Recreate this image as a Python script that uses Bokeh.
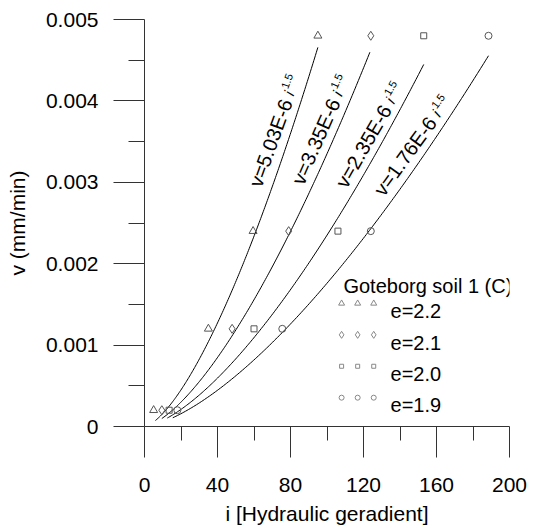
import math
import numpy as np
from bokeh.plotting import figure
from bokeh.models import Range1d, FixedTicker
from bokeh.embed import file_html
from bokeh.resources import INLINE
from bokeh.core.properties import value

# ---------------- data ----------------
v_levels = [0.0002, 0.0012, 0.0024, 0.0048]          # v (mm/min)
i_e22 = [5.0, 35.0, 59.5, 95.0]                      # e=2.2
i_e21 = [9.5, 48.0, 79.0, 124.0]                     # e=2.1
i_e20 = [13.5, 60.0, 106.0, 153.0]                   # e=2.0
i_e19 = [18.0, 75.5, 124.0, 188.5]                   # e=1.9
series_i = [i_e22, i_e21, i_e20, i_e19]
series_labels = ["e=2.2", "e=2.1", "e=2.0", "e=1.9"]
series_markers = ["triangle", "diamond", "square", "circle"]
legend_title = "Goteborg soil 1 (C)"

fit_coef = [5.03e-6, 3.35e-6, 2.35e-6, 1.76e-6]      # v = c * i^1.5
fit_text = ["v=5.03E-6", "v=3.35E-6", "v=2.35E-6", "v=1.76E-6"]
fit_exp = 1.5
fit_exp_text = "1.5"
fit_i_start = [6.0, 9.5, 12.5, 15.5]
fit_i_end = [95.0, 123.5, 153.0, 188.5]

x_ticks = [0, 40, 80, 120, 160, 200]
x_minor = [20, 60, 100, 140, 180]
y_ticks = [0, 0.001, 0.002, 0.003, 0.004, 0.005]
y_tick_labels = ["0", "0.001", "0.002", "0.003", "0.004", "0.005"]
y_minor = [0.0005, 0.0015, 0.0025, 0.0035, 0.0045]

# ---------------- styling / layout ----------------
FONT = "Liberation Sans"
AX = "#333333"
MK = "#555555"
label_i = [65.2, 88.2, 111.8, 132.1]
label_v = [0.002915, 0.00294, 0.0029, 0.0028]
label_angle = [70, 66, 60, 54]
label_perp = 9
marker_sizes = {"triangle": 8, "diamond": 9, "square": 6, "circle": 7}

p = figure(width=534, height=527, output_backend="svg", toolbar_location=None,
           x_range=Range1d(0, 200), y_range=Range1d(0, 0.005),
           min_border_left=144, min_border_right=25, min_border_top=19,
           min_border_bottom=98, background_fill_color="white",
           border_fill_color="white", outline_line_color=None)
p.grid.visible = False

p.xaxis.ticker = FixedTicker(ticks=x_ticks, minor_ticks=x_minor)
p.yaxis.ticker = FixedTicker(ticks=y_ticks, minor_ticks=y_minor)
p.yaxis.major_label_overrides = {t: s for t, s in zip(y_ticks, y_tick_labels)}
p.xaxis.major_label_overrides = {t: str(t) for t in x_ticks}

for ax, minor_out in ((p.xaxis, 14), (p.yaxis, 16)):
    ax.axis_line_color = AX
    ax.major_tick_line_color = AX
    ax.minor_tick_line_color = AX
    ax.major_tick_in = 0
    ax.major_tick_out = 31
    ax.minor_tick_in = 0
    ax.minor_tick_out = minor_out
    ax.major_label_text_font = FONT
    ax.major_label_text_font_size = "21px"
    ax.major_label_text_color = "black"
    ax.axis_label_text_font = FONT
    ax.axis_label_text_font_size = "21px"
    ax.axis_label_text_font_style = "normal"
    ax.axis_label_text_color = "black"

p.xaxis.axis_label = "i [Hydraulic geradient]"
p.yaxis.axis_label = "v (mm/min)"
p.xaxis.major_label_standoff = 20
p.yaxis.major_label_standoff = 15
p.xaxis.axis_label_standoff = 7
p.yaxis.axis_label_standoff = 14

# fitted curves
for c, a, b in zip(fit_coef, fit_i_start, fit_i_end):
    ii = np.linspace(a, b, 200)
    p.line(ii, c * ii ** fit_exp, line_color="black", line_width=1)

# data points
for ivals, mk in zip(series_i, series_markers):
    p.scatter(ivals, v_levels, marker=mk, size=marker_sizes[mk],
              line_color=MK, line_width=1, fill_alpha=0)

# curve labels  "v=..E-6 i^1.5"
def offs(d, perp, th):
    t = math.radians(th)
    return (d * math.cos(t) - perp * math.sin(t),
            -(d * math.sin(t) + perp * math.cos(t)))

for txt, li, lv, th in zip(fit_text, label_i, label_v, label_angle):
    dx, dy = offs(0, label_perp, th)
    p.text([li], [lv], text=[txt], angle=th, angle_units="deg",
           x_offset=dx, y_offset=dy,
           text_font=value(FONT), text_font_size="20px", text_color="black",
           text_align="left", text_baseline="alphabetic")
    dx, dy = offs(97, label_perp, th)
    p.text([li], [lv], text=["i"], angle=th, angle_units="deg",
           x_offset=dx, y_offset=dy,
           text_font=value(FONT), text_font_size="15px", text_font_style="italic",
           text_color="black", text_align="left", text_baseline="alphabetic")
    dx, dy = offs(102, label_perp + 6, th)
    p.text([li], [lv], text=[fit_exp_text], angle=th, angle_units="deg",
           x_offset=dx, y_offset=dy,
           text_font=value(FONT), text_font_size="11px",
           text_color="black", text_align="left", text_baseline="alphabetic")

# legend (drawn inside the frame)
leg_i0 = 108.0
leg_di = 8.8
leg_text_i = 134.8
leg_title_v = 0.00172
leg_row_v0 = 0.001512
leg_row_dv = -0.000386
leg_text_dv = -0.000095

p.text([109.0], [leg_title_v], text=[legend_title], text_font=value(FONT),
       text_font_size="20px", text_color="black", text_baseline="alphabetic")
for k, (lab, mk) in enumerate(zip(series_labels, series_markers)):
    rv = leg_row_v0 + k * leg_row_dv
    p.scatter([leg_i0 + j * leg_di for j in range(3)], [rv] * 3, marker=mk,
              size=marker_sizes[mk] - 2, line_color="#888888", line_width=1,
              fill_alpha=0)
    p.text([leg_text_i], [rv + leg_text_dv], text=[lab], text_font=value(FONT),
           text_font_size="20px", text_color="black", text_baseline="alphabetic")

open("out.html", "w").write(file_html(p, INLINE))
